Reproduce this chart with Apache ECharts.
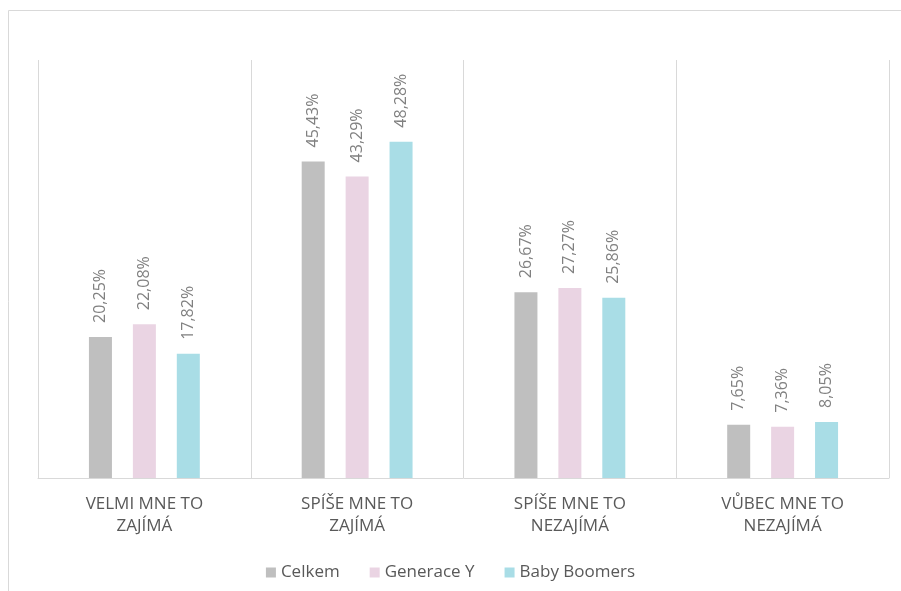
<!DOCTYPE html>
<html>
<head>
<meta charset="utf-8">
<script src="https://cdn.jsdelivr.net/npm/echarts@6/dist/echarts.min.js"></script>
<style>html,body{margin:0;padding:0;background:#fff}#c{width:901px;height:591px}</style>
</head>
<body>
<div id="c"></div>
<script>
var categories = ['VELMI MNE TO\nZAJÍMÁ', 'SPÍŠE MNE TO\nZAJÍMÁ', 'SPÍŠE MNE TO\nNEZAJÍMÁ', 'VŮBEC MNE TO\nNEZAJÍMÁ'];
var seriesNames = ['Celkem', 'Generace Y', 'Baby Boomers'];
var celkem = [20.25, 45.43, 26.67, 7.65];
var generaceY = [22.08, 43.29, 27.27, 7.36];
var babyBoomers = [17.82, 48.28, 25.86, 8.05];
var colors = ['#bfbfbf', '#ead4e3', '#a9dde6'];

function fmt(p) { return p.value.toFixed(2).replace('.', ',') + '%'; }

function mk(name, data, color) {
  return {
    name: name, type: 'bar', data: data, barWidth: 23, barGap: '91%',
    itemStyle: { color: color },
    label: {
      show: true, position: 'top', rotate: 90, align: 'left', verticalAlign: 'middle',
      distance: 14, formatter: fmt, color: '#808080', fontSize: 16,
      fontFamily: 'Open Sans'
    }
  };
}

var chart = echarts.init(document.getElementById('c'), null, { renderer: 'canvas' });
chart.setOption({
  animation: false,
  textStyle: { fontFamily: 'Open Sans' },
  graphic: [{
    type: 'rect', shape: { x: 8.5, y: 10.5, width: 1000, height: 1000 },
    style: { fill: 'none', stroke: '#d9d9d9', lineWidth: 1 }, silent: true
  }],
  grid: { left: 38, right: 12, top: 60, bottom: 113 },
  legend: {
    data: seriesNames, bottom: 5, left: 'center', itemWidth: 10, itemHeight: 10,
    itemGap: 30, icon: 'rect',
    textStyle: { color: '#595959', fontSize: 17, fontFamily: 'Open Sans' }
  },
  xAxis: {
    type: 'category', data: categories,
    axisLine: { show: true, lineStyle: { color: '#d9d9d9' } },
    axisTick: { show: false },
    splitLine: { show: true, lineStyle: { color: '#d9d9d9' } },
    axisLabel: { color: '#595959', fontSize: 17, lineHeight: 22, margin: 15, fontFamily: 'Open Sans' }
  },
  yAxis: {
    type: 'value', min: 0, max: 60, interval: 10, show: false,
    splitLine: { show: false }
  },
  series: [mk(seriesNames[0], celkem, colors[0]), mk(seriesNames[1], generaceY, colors[1]), mk(seriesNames[2], babyBoomers, colors[2])]
});
</script>
</body>
</html>
